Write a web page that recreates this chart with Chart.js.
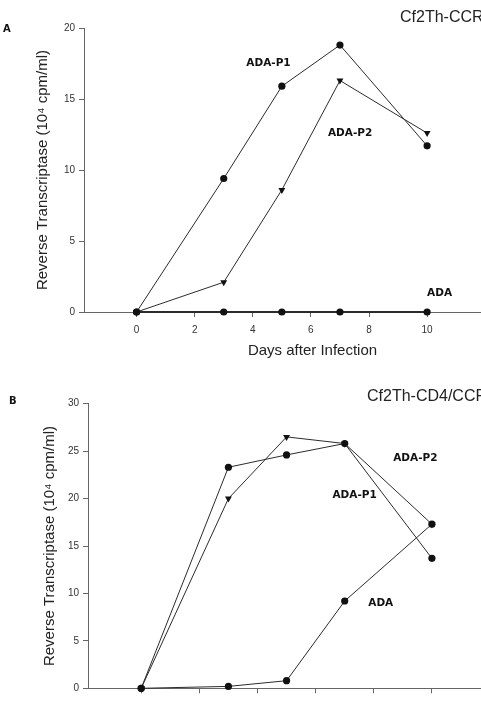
<!DOCTYPE html>
<html>
<head>
<meta charset="utf-8">
<script src="https://cdn.jsdelivr.net/npm/chart.js@4.4.0/dist/chart.umd.min.js"></script>
<style>
  html, body { margin: 0; padding: 0; background: #fff; width: 481px; height: 701px; overflow: hidden; position: relative; font-family: "Liberation Sans", Arial, sans-serif; }
  canvas { position: absolute; left: 0; }
  #chartA { top: 0; }
  #chartB { top: 340px; }
  .panel { position: absolute; font-family: "DejaVu Sans", sans-serif; font-weight: bold; font-size: 10px; color: #111; }
  .cell { position: absolute; font-size: 16px; color: #222; white-space: nowrap; }
</style>
</head>
<body>
<canvas id="chartA" width="545" height="365"></canvas>
<canvas id="chartB" width="549" height="400"></canvas>
<div class="panel" style="left:3px; top:23px;">A</div>
<div class="cell" style="left:400px; top:8px;">Cf2Th-CCR5</div>
<div class="panel" style="left:9px; top:395px;">B</div>
<div class="cell" style="left:367px; top:387px;">Cf2Th-CD4/CCR5</div>
<script>
// Dias de coleta e ticks do eixo x
const days = [0, 3, 5, 7, 10];
const xTicks = [0, 2, 4, 6, 8, 10];

// Painel A: Cf2Th-CCR5
const aAdaP1 = [0, 9.4, 15.9, 18.8, 11.7];
const aAdaP2 = [0, 2.1, 8.6, 16.3, 12.6];
const aAda = [0, 0, 0, 0, 0];
const aYTicks = [0, 5, 10, 15, 20];

// Painel B: Cf2Th-CD4/CCR5
const bAdaP1 = [0, 23.3, 24.6, 25.8, 13.7];
const bAdaP2 = [0, 20.0, 26.5, 25.8, 17.3];
const bAda = [0, 0.2, 0.8, 9.2, 17.3];
const bYTicks = [0, 5, 10, 15, 20, 25, 30];

const FONT = '"Liberation Sans", Arial, sans-serif';
const LINE = '#2b2b2b';
const AXIS = '#666';

// rótulos das séries desenhados na posição dos dados
const seriesLabels = {
    id: 'seriesLabels',
    afterDatasetsDraw(chart, args, opts) {
        const { ctx, scales: { x, y } } = chart;
        ctx.save();
        ctx.font = 'bold 10.5px "DejaVu Sans", sans-serif';
        ctx.fillStyle = '#111';
        ctx.textAlign = 'center';
        ctx.textBaseline = 'middle';
        (opts.items || []).forEach(it => {
            ctx.fillText(it.text, x.getPixelForValue(it.x), y.getPixelForValue(it.y));
        });
        ctx.restore();
    }
};

function serie(values, style, width) {
    return {
        data: days.map((d, i) => ({ x: d, y: values[i] })),
        showLine: true,
        borderColor: LINE,
        borderWidth: width || 1,
        pointStyle: style,
        rotation: style === 'triangle' ? 180 : 0,
        pointRadius: style === 'triangle' ? 4 : 3.6,
        pointBackgroundColor: '#111',
        pointBorderColor: '#111',
        pointBorderWidth: 0,
        clip: false
    };
}

function criarPainel(id, cfg) {
    const ctx = document.getElementById(id).getContext('2d');
    new Chart(ctx, {
        type: 'scatter',
        data: {
            datasets: [
                serie(cfg.ada, 'circle', cfg.adaWidth),
                serie(cfg.p2, 'triangle'),
                serie(cfg.p1, 'circle')
            ]
        },
        options: {
            responsive: false,
            animation: false,
            devicePixelRatio: 1,
            layout: { padding: { top: cfg.top, left: 0, right: 0, bottom: 0 } },
            plugins: {
                legend: { display: false },
                tooltip: { enabled: false },
                seriesLabels: { items: cfg.labels }
            },
            scales: {
                x: {
                    type: 'linear',
                    min: cfg.xMin,
                    max: cfg.xMax,
                    afterBuildTicks: s => { s.ticks = xTicks.map(v => ({ value: v })); },
                    afterFit: s => { s.height = cfg.xHeight; },
                    grid: { drawOnChartArea: false, drawTicks: true, tickLength: 5, color: AXIS },
                    border: { color: AXIS, width: 1 },
                    ticks: { font: { family: FONT, size: 10 }, color: '#333', padding: 7, maxRotation: 0 },
                    title: {
                        display: true,
                        text: 'Days after Infection',
                        font: { family: FONT, size: 15 },
                        color: '#222',
                        padding: { top: 0, bottom: 5 }
                    }
                },
                y: {
                    min: 0,
                    max: cfg.yMax,
                    afterBuildTicks: s => { s.ticks = cfg.yTicks.map(v => ({ value: v })); },
                    afterFit: s => { s.width = cfg.yWidth; },
                    grid: { drawOnChartArea: false, drawTicks: true, tickLength: 5, color: AXIS },
                    border: { color: AXIS, width: 1 },
                    ticks: { font: { family: FONT, size: 10 }, color: '#333', padding: 4 },
                    title: {
                        display: true,
                        text: 'Reverse Transcriptase (10\u2074 cpm/ml)',
                        font: { family: FONT, size: 15 },
                        color: '#222',
                        padding: { top: cfg.yTitlePad, bottom: 0 }
                    }
                }
            }
        },
        plugins: [seriesLabels]
    });
}

criarPainel('chartA', {
    p1: aAdaP1, p2: aAdaP2, ada: aAda, adaWidth: 2,
    yMax: 20, yTicks: aYTicks,
    xMin: -1.81, xMax: 13.92,
    top: 28, yWidth: 84, xHeight: 53, yTitlePad: 34,
    labels: [
        { text: 'ADA-P1', x: 4.54, y: 17.5 },
        { text: 'ADA-P2', x: 7.35, y: 12.6 },
        { text: 'ADA', x: 10.43, y: 1.3 }
    ]
});

criarPainel('chartB', {
    p1: bAdaP1, p2: bAdaP2, ada: bAda, adaWidth: 1,
    yMax: 30, yTicks: bYTicks,
    xMin: -1.83, xMax: 13.89,
    top: 63.7, yWidth: 88, xHeight: 51.7, yTitlePad: 41,
    labels: [
        { text: 'ADA-P2', x: 9.43, y: 24.2 },
        { text: 'ADA-P1', x: 7.34, y: 20.4 },
        { text: 'ADA', x: 8.24, y: 9.0 }
    ]
});
</script>
</body>
</html>
